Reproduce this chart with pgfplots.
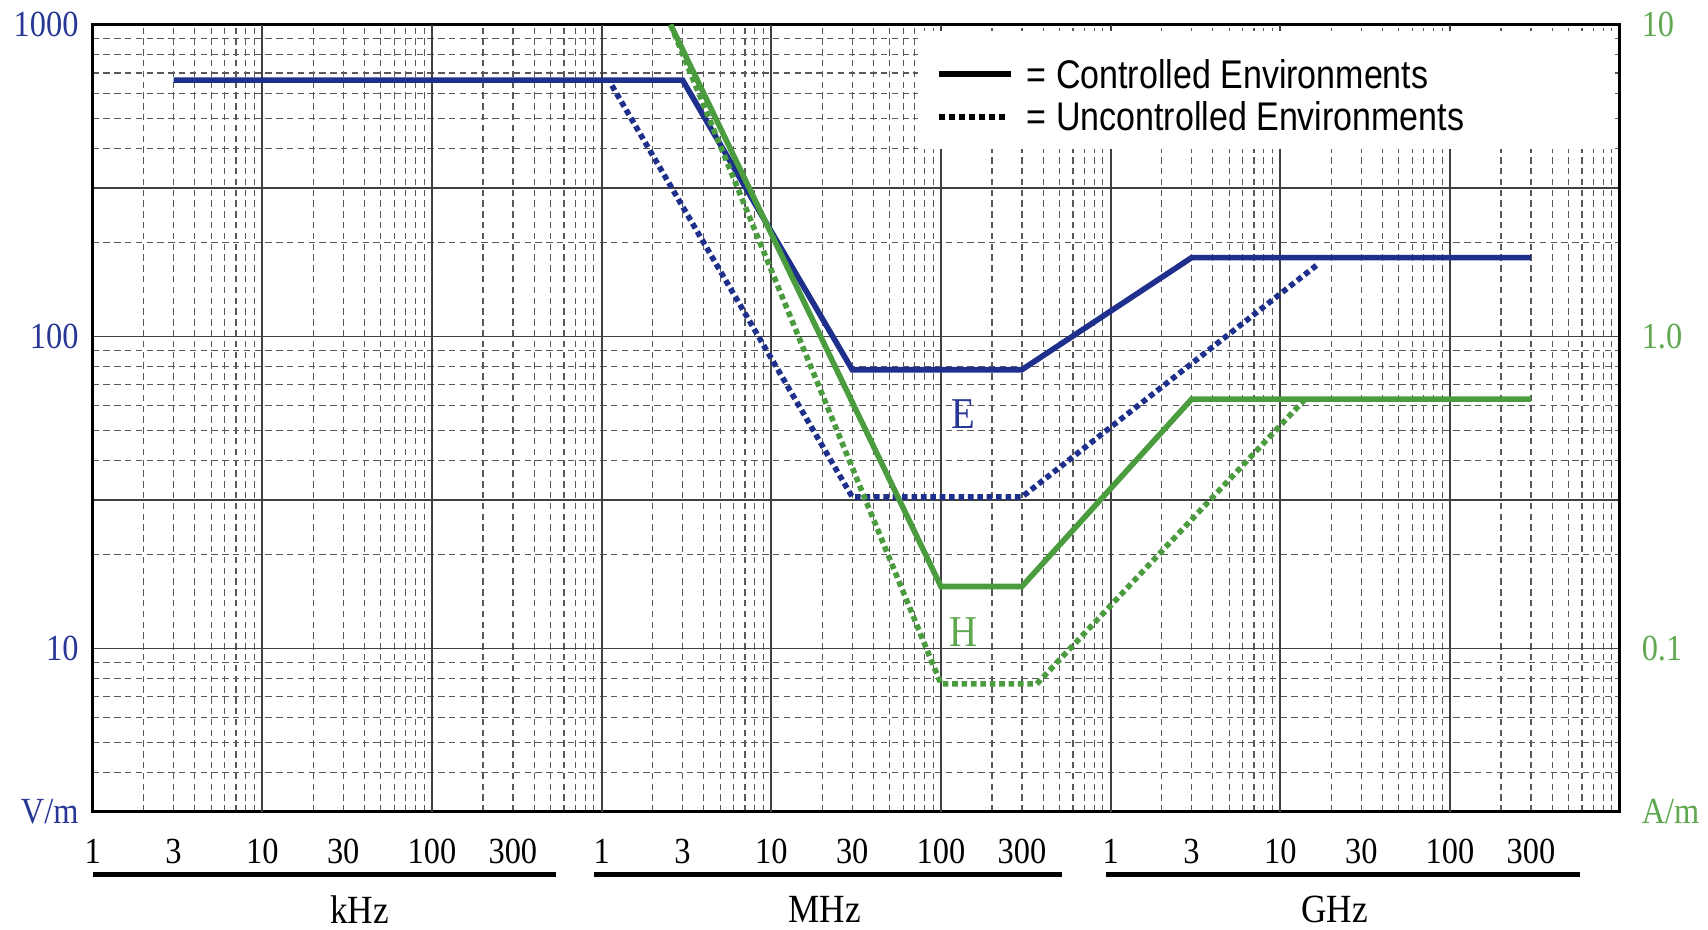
\documentclass[border=0pt]{standalone}
\usepackage{fontspec}
\setmainfont{Liberation Serif}[FakeStretch=0.88]
\newfontfamily\legfont{Liberation Sans}[FakeStretch=0.85]
\usepackage{pgfplots}
\pgfplotsset{compat=1.18}
\definecolor{eblue}{RGB}{30,48,140}
\definecolor{hgreen}{RGB}{74,156,62}
\definecolor{lblue}{RGB}{40,55,150}
\definecolor{lgreen}{RGB}{95,168,80}
\begin{document}
\begin{tikzpicture}
\useasboundingbox (0,0) rectangle (427pt,232.25pt);
\begin{axis}[
  at={(23.15pt,29.35pt)}, anchor=south west, scale only axis,
  width=381.75pt, height=196.75pt,
  xmode=log, ymode=log, xmin=1e3, xmax=1e12, ymin=3, ymax=1000,
  xtick={1e3,3e3,1e4,3e4,1e5,3e5,1e6,3e6,1e7,3e7,1e8,3e8,1e9,3e9,1e10,3e10,1e11,3e11},
  xticklabels={1,3,10,30,100,300,1,3,10,30,100,300,1,3,10,30,100,300},
  xmajorgrids=false,
  extra x ticks={1e4,1e5,1e6,1e7,1e8,1e9,1e10,1e11},
  extra x tick labels={},
  extra x tick style={grid=major},
  minor xtick={2e3,3e3,4e3,5e3,6e3,7e3,8e3,9e3,
    2e4,3e4,4e4,5e4,6e4,7e4,8e4,9e4,
    2e5,3e5,4e5,5e5,6e5,7e5,8e5,9e5,
    2e6,3e6,4e6,5e6,6e6,7e6,8e6,9e6,
    2e7,3e7,4e7,5e7,6e7,7e7,8e7,9e7,
    2e8,3e8,4e8,5e8,6e8,7e8,8e8,9e8,
    2e9,3e9,4e9,5e9,6e9,7e9,8e9,9e9,
    2e10,3e10,4e10,5e10,6e10,7e10,8e10,9e10,
    2e11,3e11,4e11,5e11,6e11,7e11,8e11,9e11},
  xminorgrids=true,
  ytick={3,10,30,100,300,1000},
  yticklabels={V/m,10,{},100,{},1000},
  minor ytick={4,5,6,7,8,9,20,40,50,60,70,80,90,200,400,500,600,700,800,900},
  ymajorgrids=true, yminorgrids=true,
  major grid style={black!75, line width=0.45pt},
  minor grid style={black!65, line width=0.3pt, dash pattern=on 1.6pt off 1.1pt},
  major tick length=0pt, minor tick length=0pt,
  axis line style={line width=0.9pt},
  xticklabel style={font=\fontsize{9.2}{10}\selectfont, yshift=-3.3pt},
  yticklabel style={font=\fontsize{9.2}{10}\selectfont, lblue},
]
\fill[white] (rel axis cs:0.5408,0.8414) rectangle (rel axis cs:0.9963,0.9924);
\addplot[eblue, line width=1.4pt, dash pattern=on 1.4pt off 0.95pt, forget plot]
  coordinates {(1.15e6,638) (3e7,30.6) (3e8,30.6) (1.7e10,172)};
\addplot[eblue, line width=1.4pt, forget plot]
  coordinates {(3e3,664) (3e6,664) (3e7,78.3) (3e8,78.3) (3e9,179) (3e11,179)};
\node[lblue, font=\fontsize{11}{12}\selectfont] at (axis cs:1.36e8,56.4) {E};
\node[lgreen, font=\fontsize{11}{12}\selectfont] at (axis cs:1.36e8,11.3) {H};
\end{axis}
\begin{axis}[
  at={(23.15pt,29.35pt)}, anchor=south west, scale only axis,
  width=381.75pt, height=196.75pt,
  xmode=log, ymode=log, xmin=1e3, xmax=1e12, ymin=0.03, ymax=10,
  axis x line=none, axis y line*=right,
  y axis line style={draw=none},
  ytick={0.03,0.1,1,10},
  yticklabels={A/m,0.1,1.0,10},
  major tick length=0pt, minor tick length=0pt,
  yticklabel style={font=\fontsize{9.2}{10}\selectfont, lgreen, xshift=2pt},
]
\addplot[hgreen, line width=1.4pt, dash pattern=on 1.4pt off 0.95pt, forget plot]
  coordinates {(2.55e6,10) (1e8,0.077) (3.67e8,0.077) (1.4e10,0.63)};
\addplot[hgreen, line width=1.4pt, forget plot]
  coordinates {(2.55e6,10) (1e8,0.158) (3e8,0.158) (3e9,0.63) (3e11,0.63)};
\end{axis}
% legend
\draw[black, line width=1.5pt] (234.7pt,213.7pt) -- (252.7pt,213.7pt);
\draw[black, line width=1.5pt, dash pattern=on 1.5pt off 1.0pt] (234.7pt,203.1pt) -- (252.2pt,203.1pt);
\node[anchor=west, inner sep=0pt, font=\legfont\fontsize{10}{12}\selectfont] at (256.5pt,213.7pt) {= Controlled Environments};
\node[anchor=west, inner sep=0pt, font=\legfont\fontsize{10}{12}\selectfont] at (256.5pt,203.1pt) {= Uncontrolled Environments};
% unit bars
\draw[line width=1.1pt] (23.15pt,13.6pt) -- (138.9pt,13.6pt);
\draw[line width=1.1pt] (148.4pt,13.6pt) -- (265.5pt,13.6pt);
\draw[line width=1.1pt] (276.4pt,13.6pt) -- (394.9pt,13.6pt);
\node[font=\fontsize{10}{12}\selectfont] at (89.9pt,4.85pt) {kHz};
\node[font=\fontsize{10}{12}\selectfont] at (206.2pt,4.85pt) {MHz};
\node[font=\fontsize{10}{12}\selectfont] at (333.6pt,4.85pt) {GHz};
\end{tikzpicture}
\end{document}
